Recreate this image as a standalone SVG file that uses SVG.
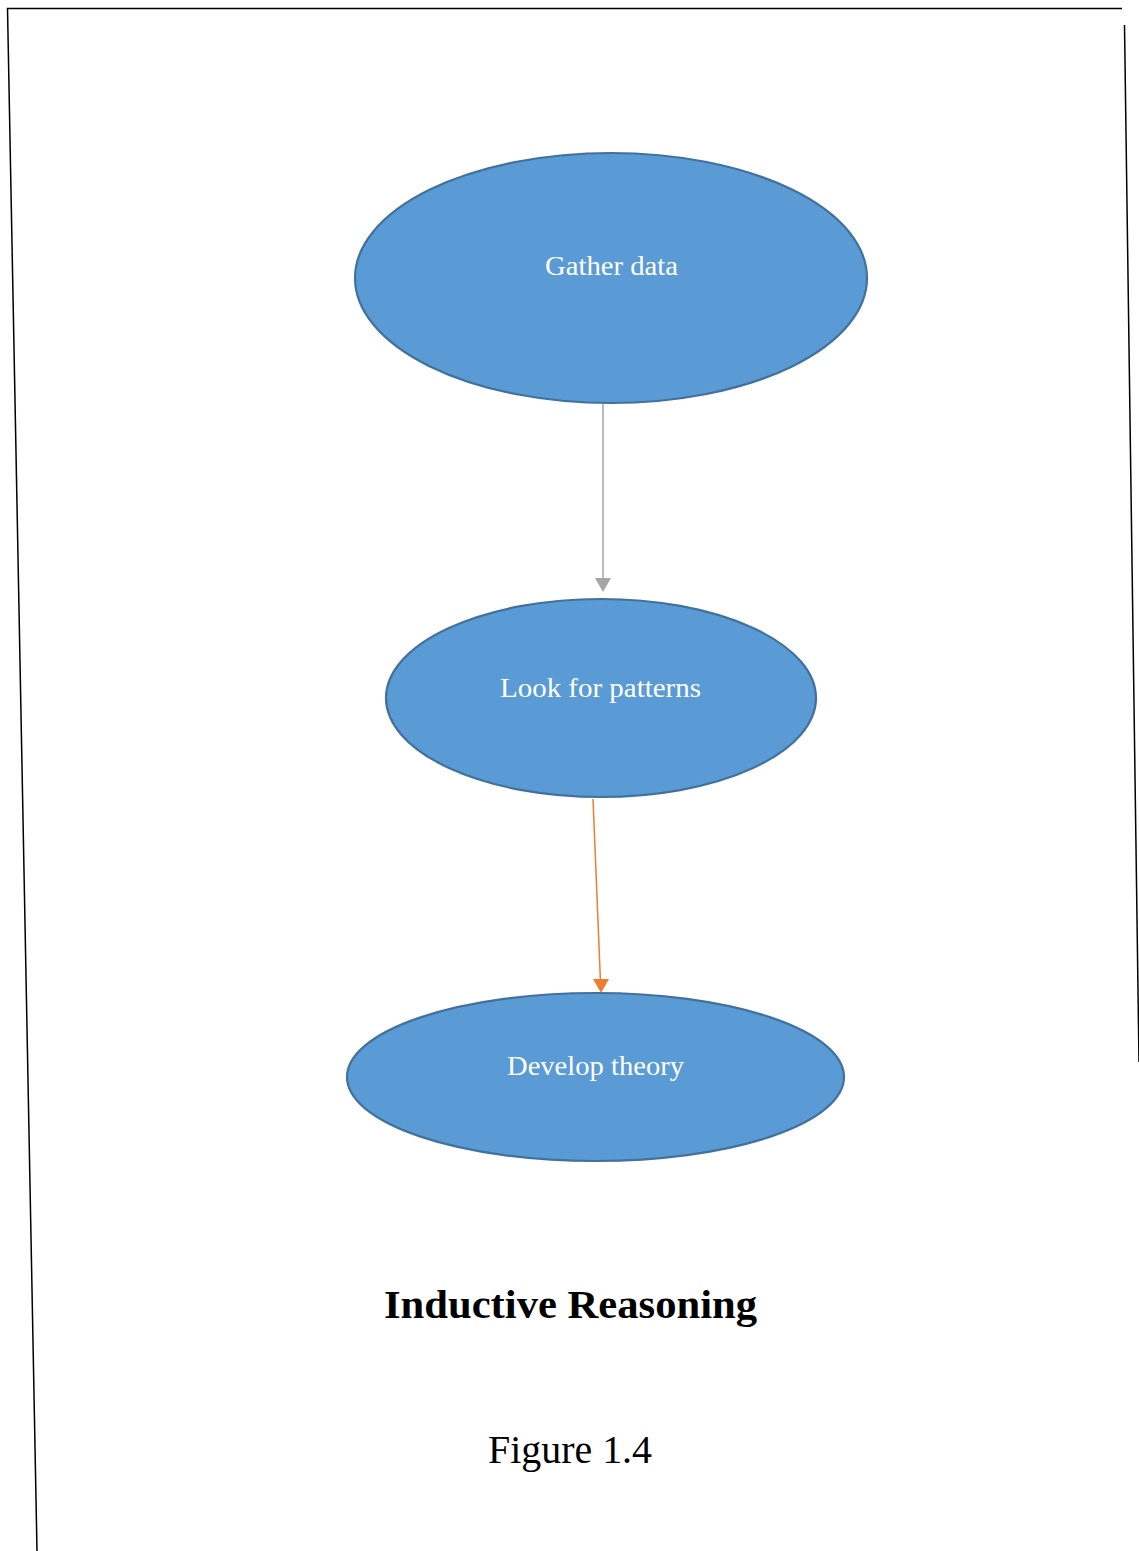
<svg xmlns="http://www.w3.org/2000/svg" width="1139" height="1551" viewBox="0 0 1139 1551">
  <style>
    .node { fill: #5B9BD5; stroke: #41719C; stroke-width: 2.2; }
    .label { fill: #FFFFFF; font-family: "Liberation Serif", "DejaVu Serif", serif; font-size: 28px; text-anchor: middle; }
    .frame { stroke: #000000; stroke-width: 1.5; fill: none; }
    .title { font-family: "Liberation Serif", "DejaVu Serif", serif; fill: #000000; text-anchor: middle; }
  </style>

  <rect width="1139" height="1551" fill="#FFFFFF"/>

  <!-- page frame -->
  <g id="frame">
    <line class="frame" x1="7" y1="8.5" x2="1122" y2="8.5"/>
    <line class="frame" x1="7.5" y1="8" x2="37" y2="1551"/>
    <line class="frame" x1="1124.5" y1="25" x2="1139" y2="1062"/>
  </g>

  <!-- connectors -->
  <g id="connectors">
    <line x1="603" y1="404" x2="603" y2="578" stroke="#A5A5A5" stroke-width="1.5"/>
    <path d="M595,578 L611,578 L603,592 Z" fill="#A5A5A5"/>
    <line x1="593" y1="799" x2="600.4" y2="980" stroke="#ED7D31" stroke-width="1.5"/>
    <path d="M593,979 L609,979 L601,993 Z" fill="#ED7D31"/>
  </g>

  <g id="node-gather">
    <ellipse class="node" cx="611" cy="278" rx="256" ry="125"/>
    <text class="label" x="611.5" y="275" textLength="133" lengthAdjust="spacingAndGlyphs">Gather data</text>
  </g>

  <g id="node-patterns">
    <ellipse class="node" cx="601" cy="698" rx="215" ry="99"/>
    <text class="label" x="600.5" y="697" textLength="201" lengthAdjust="spacingAndGlyphs">Look for patterns</text>
  </g>

  <g id="node-theory">
    <ellipse class="node" cx="595.5" cy="1077" rx="248.5" ry="84"/>
    <text class="label" x="595.5" y="1075" textLength="177" lengthAdjust="spacingAndGlyphs">Develop theory</text>
  </g>

  <g id="caption">
    <text class="title" x="570.5" y="1318" font-size="41" font-weight="bold" textLength="373" lengthAdjust="spacingAndGlyphs">Inductive Reasoning</text>
    <text class="title" x="570" y="1463" font-size="39" textLength="164" lengthAdjust="spacingAndGlyphs">Figure 1.4</text>
  </g>
</svg>
